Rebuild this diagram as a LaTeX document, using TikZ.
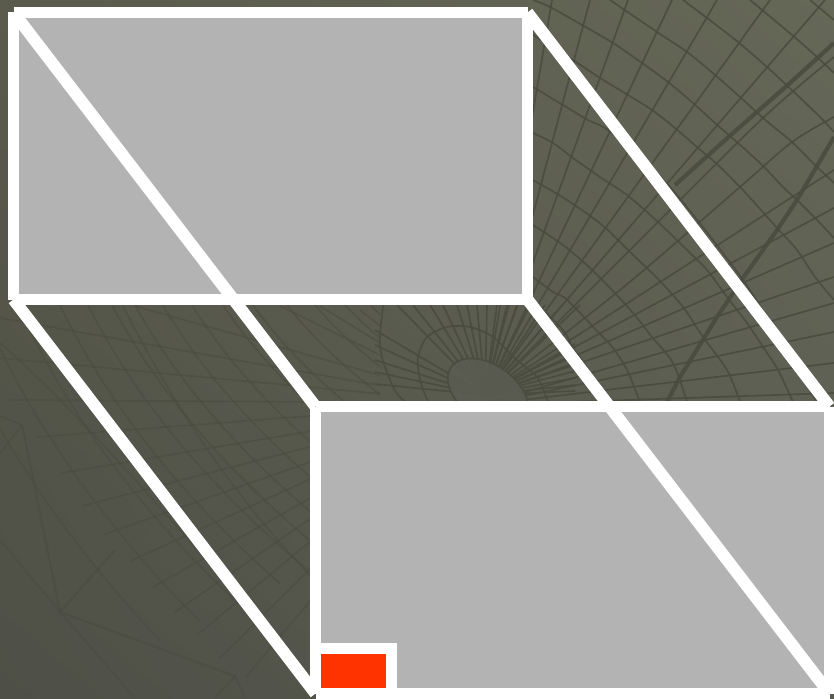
\documentclass[tikz,border=0pt]{standalone}
\usetikzlibrary{shadings}
\definecolor{bgUR}{HTML}{656757}
\definecolor{bgLR}{HTML}{5A5C52}
\definecolor{bgUL}{HTML}{5A5B4C}
\definecolor{bgLL}{HTML}{4E4F46}
\definecolor{meshc}{HTML}{4A4C40}
\definecolor{panelc}{HTML}{B3B3B3}
\definecolor{markc}{HTML}{FF3300}
\tikzset{
  edgeline/.style={draw=white,line width=11pt,line cap=butt},
  diagline/.style={draw=white,line width=12pt,line cap=butt},
  meshline/.style={draw=meshc,line width=1.7pt,opacity=.9},
  faintline/.style={draw=meshc,line width=1.7pt,opacity=.55},
  heavyline/.style={draw=meshc,line width=4.2pt,opacity=.9},
  panel/.style={fill=panelc,draw=none}
}
\begin{document}
\begin{tikzpicture}[x=1pt,y=-1pt]
\useasboundingbox (0,0) rectangle (834,698);
\begin{scope}
\clip (0,0) rectangle (834,698);
\shade[upper right=bgUR,lower right=bgLR,upper left=bgUL,lower left=bgLL] (0,0) rectangle (834,698);
% measured arcs, right part
\begin{scope}
\clip (375,0) rectangle (834,402);
\draw[meshline] plot[smooth] coordinates {(810,0)(834,20)};
\draw[meshline] plot[smooth] coordinates {(750,0)(792,35)(817,57)(834,73)};
\draw[meshline] plot[smooth] coordinates {(683,0)(707,18)(738,42)(767,67)(795,93)(820,117)(834,132)};
\draw[meshline] plot[smooth] coordinates {(610,0)(657,32)(687,52)(715,75)(740,97)(763,118)(792,142)(813,163)(834,183)};
\draw[meshline] plot[smooth] coordinates {(533,0)(550,7)(582,25)(613,43)(642,63)(668,82)(693,103)(715,123)(738,143)(762,165)(783,187)(797,200)(817,220)(834,238)};
\draw[meshline] plot[smooth] coordinates {(530,33)(573,60)(600,78)(628,95)(652,110)(675,128)(697,147)(718,165)(740,187)(752,200)(777,228)(797,250)(815,277)(834,300)};
\draw[meshline] plot[smooth] coordinates {(533,87)(563,105)(588,120)(612,133)(670,187)(743,280)(780,340)(817,402)};
\draw[meshline] plot[smooth] coordinates {(533,133)(553,143)(573,158)(600,177)(627,195)(658,222)(687,250)(707,270)(727,297)(747,323)(763,347)(778,370)(793,402)};
\draw[meshline] plot[smooth] coordinates {(533,180)(567,200)(602,225)(630,252)(657,278)(683,307)(703,337)(727,370)(740,402)};
\draw[meshline] plot[smooth] coordinates {(533,225)(563,245)(590,268)(612,290)(633,313)(652,337)(673,363)(687,402)};
\draw[meshline] plot[smooth] coordinates {(533,277)(553,292)(565,298)(582,315)(598,332)(613,348)(627,370)(640,402)};
\draw[meshline] plot[smooth] coordinates {(533,300)(563,330)(573,348)(588,370)(598,402)};
\draw[meshline] plot[smooth] coordinates {(428,402)(420,380)(418,357)(427,337)(447,327)(470,327)(493,337)(517,360)(537,377)(548,402)};
\draw[meshline] plot[smooth] coordinates {(384,300)(380,347)(393,387)(405,402)};
% spokes
\foreach \p in {397,413,430,443,457,467,477,487,497,507,517,530,545,562,580}
  \draw[meshline] (\p,305) -- (485,395);
\foreach \p in {552,590,628,672,717,770,825}
  \draw[meshline] (\p,0) -- (485,395);
\draw[meshline] plot[smooth] coordinates {(834,57)(763,118)(640,240)(485,395)};
\draw[meshline] plot[smooth] coordinates {(834,117)(792,142)(740,187)(620,290)(485,395)};
\foreach \q in {170,208,243,277}
  \draw[meshline] (834,\q) -- (485,395);
\foreach \q in {303,332,363,393}
  \draw[meshline] (834,\q) -- (480,405);
\foreach \q in {344,354,363,371,378,385,391}
  \draw[meshline] (575,\q) -- (485,395);
\foreach \q in {330,345,360,372,384}
  \draw[meshline] (375,\q) -- (485,395);
\end{scope}
% ellipse
\draw[meshline,fill=bgLR] (488,393) ellipse[x radius=45,y radius=28,rotate=-35];
% heavy strokes
\draw[heavyline] (675,185) -- (733,133) -- (790,83) -- (834,43);
\draw[heavyline] (667,402) -- (680,377) -- (717,317) -- (743,278) -- (775,233) -- (797,200) -- (834,137);
% lower-left mesh
\begin{scope}
\clip (0,300) rectangle (380,698);
\foreach \x/\y in {320/306,360/310,280/306,135/306,0/318,0/358,10/400,37/437,62/473,82/506,105/534,130/561,153/587,175/612,197/635,220/658,245/678}
  \draw[faintline] (\x,\y) -- (478,403);
\foreach \s in {-60,-20,18,60,88,112,135,163,192,223,253,287,315,345,370}{
  \pgfmathsetmacro{\f}{1-(\s-88)*0.0018}
  \pgfmathsetmacro{\ca}{305+100*\f}
  \pgfmathsetmacro{\cb}{305+190*\f}
  \pgfmathsetmacro{\ce}{305+265*\f}
  \draw[faintline] (\s,305) .. controls (\s+50,\ca) and (\s+130,\cb) .. (\s+220,\ce);
}
\draw[faintline] (0,343) .. controls (100,430) and (230,590) .. (320,690);
\draw[faintline] (120,300) .. controls (180,420) and (260,540) .. (380,640);
\draw[faintline,line width=2.2pt] (22,425) -- (60,612) -- (115,550);
\draw[faintline] (60,612) -- (0,540);
\draw[faintline] (60,612) -- (135,698);
\draw[faintline] (22,425) -- (0,416);
\draw[faintline] (22,425) -- (0,453);
\draw[faintline,line width=2.2pt] (60,612) -- (235,676) -- (215,698);
\draw[faintline] (235,676) -- (245,698);
\end{scope}
\end{scope}
% geometry
\coordinate (a) at (13.5,12.5);
\coordinate (b) at (527.5,12.5);
\coordinate (c) at (527.5,299.5);
\coordinate (d) at (13.5,299.5);
\coordinate (e) at (315.5,406.5);
\coordinate (f) at (829.5,406.5);
\coordinate (g) at (829.5,693.5);
\coordinate (h) at (315.5,693.5);
\coordinate (m) at (391.5,698);
\coordinate (n) at (391.5,648.5);
\coordinate (o) at (315.5,648.5);
\fill[panel] (a) rectangle (c);
\fill[panel] (e) rectangle (g);
\fill[markc] (315.5,648.5) rectangle (391.5,693.5);
\foreach \u/\v in {a/e,b/f,c/g,d/h}
  \draw[diagline] (\u) -- (\v);
\foreach \u/\v in {a/b,b/c,c/d,d/a,e/f,f/g,g/h,h/e}
  \draw[edgeline] (\u) -- (\v);
\draw[edgeline,line join=miter] (m) -- (n) -- (o);
\end{tikzpicture}
\end{document}
